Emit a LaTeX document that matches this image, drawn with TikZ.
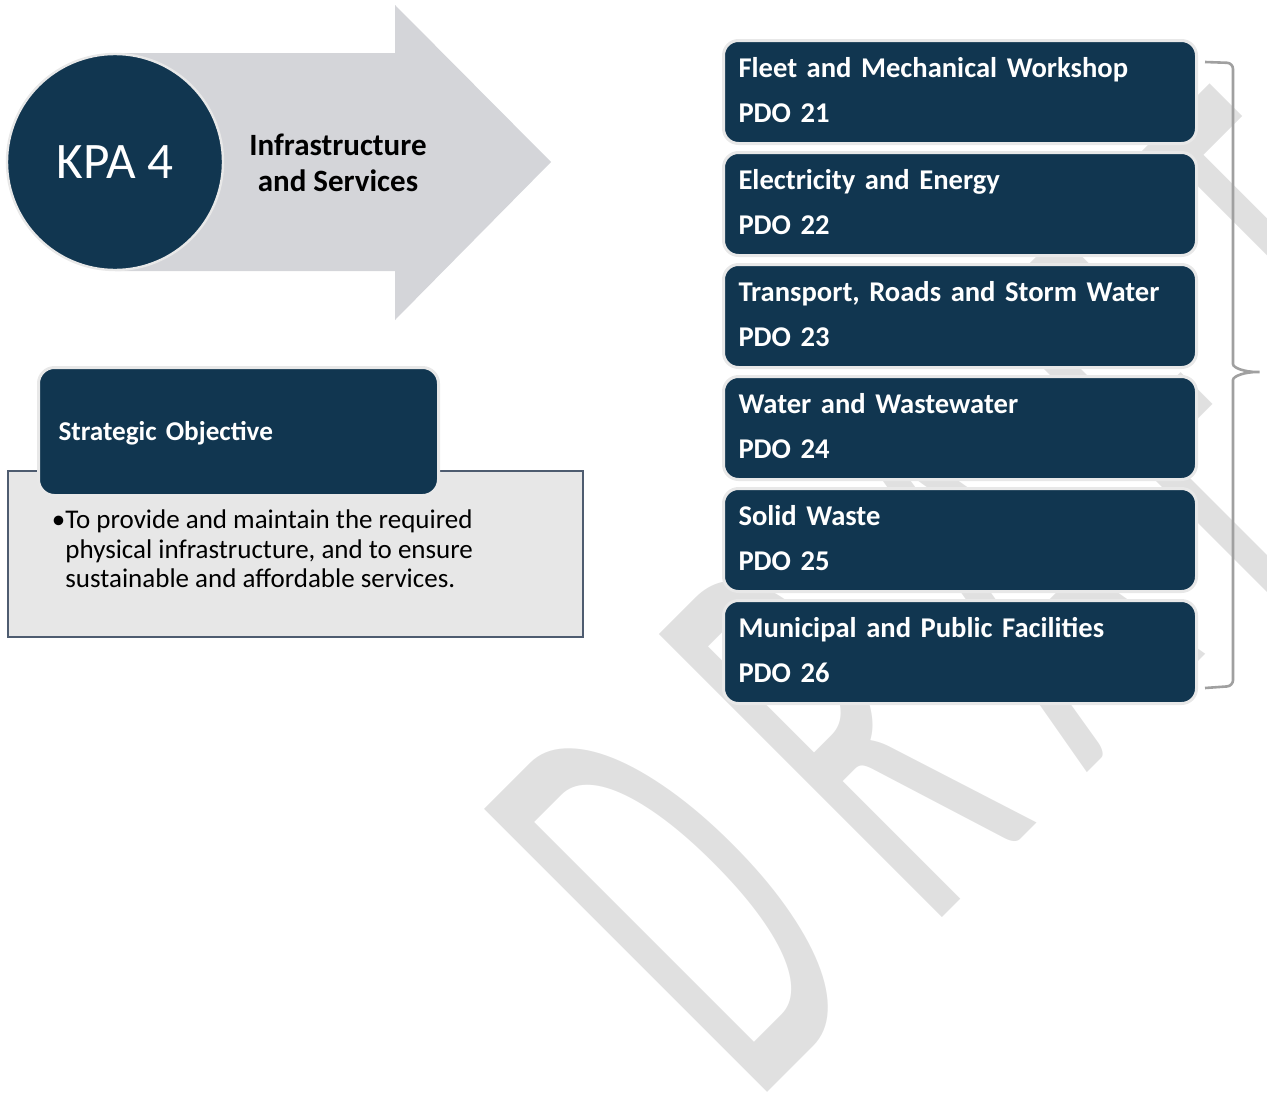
\documentclass[tikz,border=0pt]{standalone}
\usepackage{fontspec}
\setmainfont{Carlito}
\definecolor{navy}{RGB}{17,54,80}
\definecolor{arrowgray}{RGB}{212,213,217}
\definecolor{ringgray}{RGB}{232,232,232}
\definecolor{boxgray}{RGB}{231,231,231}
\definecolor{slate}{RGB}{78,92,112}
\definecolor{bracegray}{RGB}{160,160,160}
\definecolor{wmgray}{RGB}{224,224,224}
\newcommand{\pdostrut}{\rule[-7pt]{0pt}{22pt}}
\newcommand{\wmkern}{\kern70pt}

\begin{document}
\begin{tikzpicture}[x=0.5pt,y=-0.5pt,
  kpa/.style={circle,fill=navy,draw=ringgray,line width=1.2pt,
    minimum size=108pt,text=white,font=\fontsize{25.6}{30}\selectfont},
  infra/.style={align=center,font=\bfseries\fontsize{15.5}{17.85}\selectfont},
  pdobox/.style={anchor=north west,rectangle,rounded corners=7.5pt,
    fill=navy,draw=ringgray,line width=1.5pt,text=white,align=left,
    text width=221.5pt,inner xsep=7.5pt,inner ysep=0pt,minimum height=51.5pt,
    font=\bfseries\fontsize{14.3}{22.5}\selectfont},
  objhead/.style={pdobox,text width=180pt,inner xsep=10pt,minimum height=64pt,
    text height=12pt,text depth=3pt,rounded corners=8pt,
    font=\bfseries\fontsize{13.6}{16}\selectfont},
  objbox/.style={anchor=north west,rectangle,fill=boxgray,draw=slate,
    line width=1.2pt,minimum width=287.5pt,minimum height=83pt},
  objtext/.style={anchor=north west,inner sep=0pt,align=left,
    font=\fontsize{13.5}{14.6}\selectfont},
  bracket/.style={draw=bracegray,line width=1.3pt,rounded corners=3pt},
  wmark/.style={anchor=base west,rotate=45,inner sep=0pt,text=wmgray,
    font=\fontsize{312}{312}\selectfont}]
\useasboundingbox (0,0) rectangle (1267,1092);
% watermark behind everything
\begin{scope}
\clip (0,0) rectangle (1267,1092);
\node[wmark] (draft) at (753,1107)
  {\scalebox{0.47}[1]{D\wmkern R\wmkern A\wmkern F\wmkern T}};
\end{scope}
% KPA arrow
\fill[arrowgray] (115,53) -- (395,53) -- (395,5) -- (551,162)
  -- (395,320) -- (395,271) -- (115,271) -- cycle;
\node[kpa] (kpa) at (115,162) {KPA 4};
\node[infra] (infra) at (338,163) {Infrastructure\\and Services};
% strategic objective
\node[objbox] (objbox) at (7,470) {};
\node[objhead] (objhead) at (37,366) {Strategic Objective};
\node[objtext] (objtext) at (65,508)
  {\strut\llap{\textbullet}To provide and maintain the required\\
   physical infrastructure, and to ensure\\
   sustainable and affordable services.};
% PDO boxes
\node[pdobox] (fleet) at (722,39)
  {\pdostrut Fleet and Mechanical Workshop\\\pdostrut PDO 21};
\node[pdobox] (elec) at (722,151)
  {\pdostrut Electricity and Energy\\\pdostrut PDO 22};
\node[pdobox] (roads) at (722,263)
  {\pdostrut Transport, Roads and Storm Water\\\pdostrut PDO 23};
\node[pdobox] (water) at (722,375)
  {\pdostrut Water and Wastewater\\\pdostrut PDO 24};
\node[pdobox] (waste) at (722,487)
  {\pdostrut Solid Waste\\\pdostrut PDO 25};
\node[pdobox] (facil) at (722,599)
  {\pdostrut Municipal and Public Facilities\\\pdostrut PDO 26};
% bracket
\coordinate (btop) at (1205,62);
\coordinate (bbot) at (1205,688);
\draw[bracket] (btop) -- (1233,63) -- (1233,358)
  .. controls (1233,368) and (1245,372) .. (1263,372)
  .. controls (1245,372) and (1233,376) .. (1233,386)
  -- (1233,686) -- (bbot);
\end{tikzpicture}
\end{document}
